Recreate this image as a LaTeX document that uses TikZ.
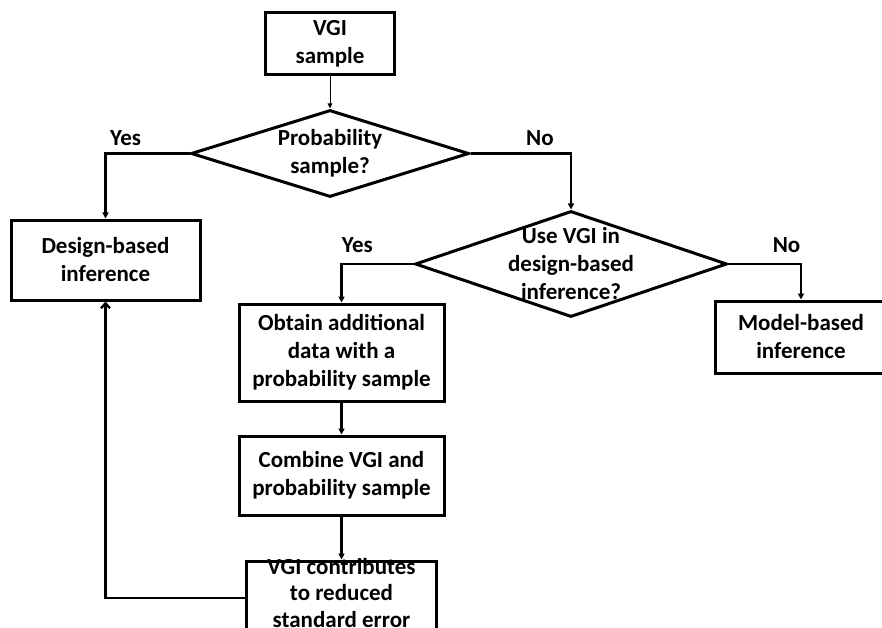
\documentclass[tikz,border=0pt]{standalone}
\usepackage{fontspec}
\setmainfont{Carlito}
\usepackage{tikz}
\usetikzlibrary{positioning, arrows.meta, shapes.geometric}
\definecolor{ink}{HTML}{000000}

\begin{document}
\begin{tikzpicture}[
      x=1pt, y=-1pt,
      font=\fontsize{23}{28}\selectfont\bfseries,
      box/.style={draw=ink, line width=3pt, fill=white, align=center, inner sep=2pt},
      dia/.style={diamond, draw=ink, line width=3pt, aspect=3, inner sep=0pt},
      dtext/.style={align=center, inner sep=0pt},
      lab/.style={inner sep=2pt},
      arr/.style={-{Triangle[length=6pt, width=6pt]}, line width=2.4pt, draw=ink},
      thinarr/.style={-{Triangle[length=5pt, width=4.5pt]}, line width=1pt, draw=ink},
      back/.style={-{Straight Barb[length=5pt, width=9pt]}, line width=2.4pt, draw=ink}]

    \useasboundingbox (0,0) rectangle (882,628);
    \clip (0,0) rectangle (882,628);

    \node[box, minimum width=129pt, minimum height=62pt] (sample) at (330,44) {VGI\\sample};
    \node[dia, minimum width=278pt, minimum height=87pt, below=32pt of sample] (prob) {};
    \node[dtext] (probtxt) at (prob) {Probability\\sample?};
    \node[box, minimum width=189pt, minimum height=80pt] (design) at (105.5,260) {Design-based\\inference};
    \node[dia, minimum width=312pt, minimum height=106pt] (use) at (571,264) {};
    \node[dtext] (usetxt) at (use) {Use VGI in\\design-based\\inference?};
    \node[box, minimum width=172pt, minimum height=72pt] (model) at (801,337) {Model-based\\inference};
    \node[box, minimum width=205pt, minimum height=97pt] (obtain) at (341.5,352.5) {Obtain additional\\data with a\\probability sample};
    \node[box, minimum width=205pt, minimum height=79pt, below=32pt of obtain] (combine) {Combine VGI and\\probability sample};
    \node[box, minimum width=190pt, minimum height=74pt, below=43pt of combine] (contrib) {};
    \node[dtext, font=\fontsize{23}{26.5}\selectfont\bfseries, yshift=5pt] (contribtxt) at (contrib) {VGI contributes\\to reduced\\standard error};

    \draw[thinarr] (sample) -- (prob);
    \draw[arr] (prob.west) -| node[lab, above=5pt, pos=0.38] (yesone) {Yes} (design.north);
    \draw[arr] (prob.east) -| node[lab, above=5pt, pos=0.345] (noone) {No} (use.north);
    \draw[arr] (use.west) -| node[lab, above=8pt, pos=0.39] (yestwo) {Yes} (obtain.north);
    \draw[arr] (use.east) -| node[lab, above=8pt, pos=0.4] (notwo) {No} (model.north);
    \draw[arr] (obtain) -- (combine);
    \draw[arr] (combine) -- (contrib);
    \draw[back] (contrib.west) -| (design.south);
  \end{tikzpicture}
\end{document}
